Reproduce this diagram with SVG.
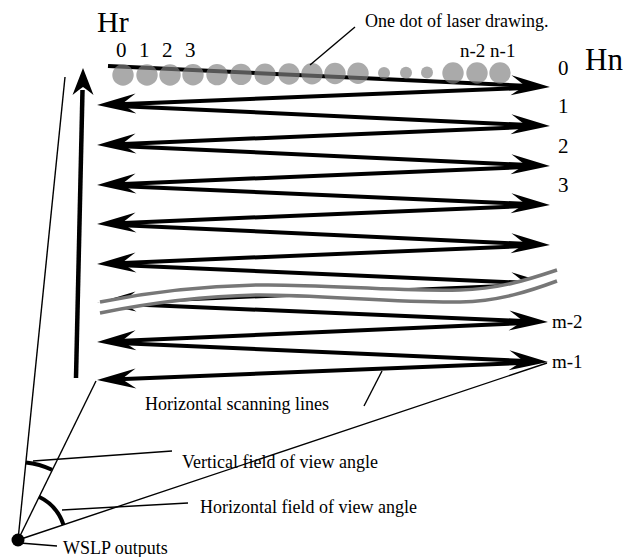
<svg xmlns="http://www.w3.org/2000/svg" width="639" height="557" viewBox="0 0 639 557">
<style>
text{font-family:"Liberation Serif","Times New Roman",serif;fill:#000}
.scan{stroke:#000;stroke-width:4;fill:none;marker-end:url(#ah)}
.thin{stroke:#000;stroke-width:1.4;fill:none}
.arc{stroke:#000;stroke-width:4;fill:none}
.dot{fill:#808080;fill-opacity:0.67}
.brk{stroke:#777;stroke-width:3.5;fill:none}
</style>
<defs>
<marker id="ah" markerUnits="userSpaceOnUse" markerWidth="60" markerHeight="30" refX="0" refY="0" orient="auto" style="overflow:visible">
<path d="M15,0 L-24,-10 Q-14,-3 -10,0 Q-14,3 -24,10 Z" fill="#000"/>
</marker>
</defs>
<rect width="639" height="557" fill="#fff"/>

<g id="connectors">
<line class="scan" x1="108" y1="66" x2="535" y2="86.3"/>
<line class="scan" x1="535" y1="87.6" x2="112" y2="104.4"/>
<line class="scan" x1="112" y1="105.7" x2="535" y2="125.3"/>
<line class="scan" x1="535" y1="126.6" x2="112" y2="144.4"/>
<line class="scan" x1="112" y1="145.7" x2="535" y2="165.3"/>
<line class="scan" x1="535" y1="166.6" x2="112" y2="184.4"/>
<line class="scan" x1="112" y1="185.7" x2="535" y2="204.3"/>
<line class="scan" x1="535" y1="205.6" x2="112" y2="223.4"/>
<line class="scan" x1="112" y1="224.7" x2="535" y2="244.3"/>
<line class="scan" x1="535" y1="245.6" x2="112" y2="263.4"/>
<line class="scan" x1="112" y1="264.7" x2="535" y2="283.3"/>
<line class="scan" x1="535" y1="284.6" x2="112" y2="302.4"/>
<line class="scan" x1="112" y1="303.6" x2="533" y2="321.4"/>
<line class="scan" x1="533" y1="322.7" x2="112" y2="341.3"/>
<line class="scan" x1="112" y1="342.7" x2="533" y2="361.3"/>
<line class="scan" x1="533" y1="362.6" x2="112" y2="379.4"/>
</g>

<g id="break-mark">
<path d="M90,304 L100,302 C150,292 200,286 260,285 C320,284 400,292 460,290 C500,289 530,279 557,270 L557,281 C530,291 500,301 460,302 C400,303 320,295 260,295 C200,296 150,303 100,313 L90,315 Z" fill="#fff"/>
<path class="brk" d="M100,302 C150,292 200,286 260,285 C320,284 400,292 460,290 C500,289 530,279 557,270"/>
<path class="brk" d="M100,313 C150,303 200,296 260,295 C320,295 400,303 460,302 C500,301 530,291 557,281"/>
</g>

<g id="laser-dots">
<circle class="dot" cx="123" cy="75" r="10.7"/>
<circle class="dot" cx="147" cy="75" r="10.7"/>
<circle class="dot" cx="170" cy="75" r="10.7"/>
<circle class="dot" cx="193" cy="74.8" r="10.7"/>
<circle class="dot" cx="217" cy="74.6" r="10.7"/>
<circle class="dot" cx="241" cy="74.4" r="10.7"/>
<circle class="dot" cx="265" cy="74.2" r="10.7"/>
<circle class="dot" cx="289" cy="74" r="10.7"/>
<circle class="dot" cx="312" cy="73.8" r="10.7"/>
<circle class="dot" cx="335" cy="73.5" r="10.7"/>
<circle class="dot" cx="358" cy="73.3" r="10.7"/>
<circle class="dot" cx="384" cy="73" r="6"/>
<circle class="dot" cx="406" cy="72.8" r="6"/>
<circle class="dot" cx="427" cy="72.6" r="6"/>
<circle class="dot" cx="453" cy="73" r="10.7"/>
<circle class="dot" cx="477" cy="73" r="10.7"/>
<circle class="dot" cx="500" cy="73" r="10.7"/>
</g>

<g id="vertical-arrow">
<line x1="76" y1="378" x2="82.5" y2="90" stroke="#000" stroke-width="4.5"/>
<path d="M83,68 L93.5,95 Q86,89 83,87 Q80,89 72.5,95 Z" fill="#000"/>
</g>

<g id="wslp">
<line class="thin" x1="18" y1="540" x2="65" y2="77"/>
<line class="thin" x1="18" y1="540" x2="96" y2="381"/>
<line class="thin" x1="18" y1="540" x2="547" y2="363"/>
<path class="arc" d="M25.9,462.4 A78,78 0 0 1 52,469.8"/>
<path class="arc" d="M38.9,496.8 A48,48 0 0 1 63.5,524.8"/>
<circle cx="18" cy="540" r="6.5" fill="#000"/>
</g>

<g id="leaders">
<line class="thin" x1="355" y1="27" x2="310" y2="65"/>
<line class="thin" x1="382" y1="371" x2="364" y2="406"/>
<line class="thin" x1="33" y1="461" x2="172" y2="451"/>
<line class="thin" x1="62" y1="510" x2="188" y2="503"/>
<line class="thin" x1="20" y1="543" x2="57" y2="546"/>
</g>

<g id="labels">
<text x="97" y="32" font-size="30">Hr</text>
<text x="585" y="70" font-size="31">Hn</text>
<text x="116" y="57" font-size="21">0</text>
<text x="139" y="57" font-size="21">1</text>
<text x="162" y="57" font-size="21">2</text>
<text x="185" y="57" font-size="21">3</text>
<text x="460" y="57" font-size="19">n-2 n-1</text>
<text x="365" y="27" font-size="18">One dot of laser drawing.</text>
<text x="558" y="75" font-size="21">0</text>
<text x="558" y="113" font-size="21">1</text>
<text x="558" y="153" font-size="21">2</text>
<text x="558" y="192" font-size="21">3</text>
<text x="552" y="328" font-size="19">m-2</text>
<text x="552" y="368" font-size="19">m-1</text>
<text x="145" y="410" font-size="18">Horizontal scanning lines</text>
<text x="182" y="468" font-size="18">Vertical field of view angle</text>
<text x="200" y="513" font-size="18">Horizontal field of view angle</text>
<text x="63" y="554" font-size="18">WSLP outputs</text>
</g>
</svg>
